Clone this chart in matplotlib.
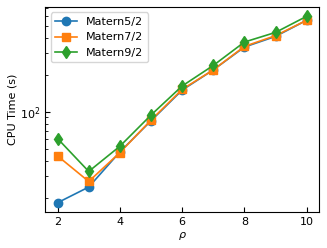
import numpy as np
import matplotlib.pyplot as plt

# Data
rho = [2, 3, 4, 5, 6, 7, 8, 9, 10]
matern52 = [18.2, 24.4, 47.1, 84.4, 150, 219, 336, 410, 555]
matern72 = [43.7, 27.1, 46.5, 85.5, 152, 219, 340, 416, 555]
matern92 = [60.5, 32.7, 52.4, 94.0, 162, 238, 369, 442, 598]

fig = plt.figure(figsize=(3.27, 2.48), dpi=100)
ax = fig.add_axes([0.138, 0.145, 0.838, 0.827])

ax.plot(rho, matern52, marker='o', markersize=6, linewidth=1.2, label='Matern5/2')
ax.plot(rho, matern72, marker='s', markersize=6, linewidth=1.2, label='Matern7/2')
ax.plot(rho, matern92, marker='d', markersize=6, linewidth=1.2, label='Matern9/2')

ax.set_yscale('log')
ax.set_xlabel(r'$\rho$', fontsize=8, labelpad=2)
ax.set_ylabel('CPU Time (s)', fontsize=8, labelpad=2)
ax.tick_params(which='both', direction='in', labelsize=8)
ax.legend(loc='upper left', fontsize=8)

fig.savefig('out.png', dpi=100)
